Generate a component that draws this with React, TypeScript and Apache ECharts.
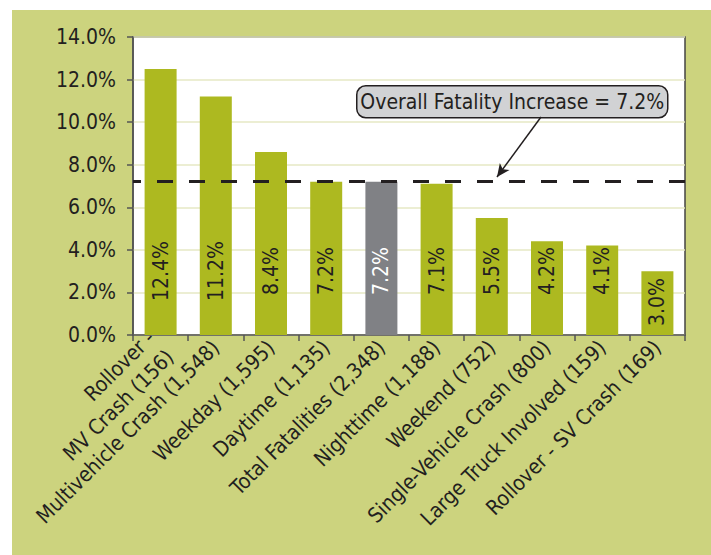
import React, { useEffect, useRef } from "react";
import * as echarts from "echarts";

const categories = [
  "Rollover -\nMV Crash (156)",
  "Multivehicle Crash (1,548)",
  "Weekday (1,595)",
  "Daytime (1,135)",
  "Total Fatalities (2,348)",
  "Nighttime (1,188)",
  "Weekend (752)",
  "Single-Vehicle Crash (800)",
  "Large Truck Involved (159)",
  "Rollover - SV Crash (169)",
];
const barValues = [12.5, 11.2, 8.6, 7.2, 7.2, 7.1, 5.5, 4.4, 4.2, 3.0];
const labelValues = [12.4, 11.2, 8.4, 7.2, 7.2, 7.1, 5.5, 4.2, 4.1, 3.0];
const highlightIndex = 4;
const overallIncrease = 7.2;
const calloutText = "Overall Fatality Increase = 7.2%";

const FONT = "'Liberation Sans Narrow', 'DejaVu Sans Condensed', Roboto, sans-serif";
const TEXT = "#231f20";
const GREEN_BG = "#ccd37e";
const BAR = "#adb920";
const GRAY = "#808185";

export default function App() {
  const ref = useRef<HTMLDivElement>(null);
  useEffect(() => {
    if (!ref.current) return;
    const chart = echarts.init(ref.current, undefined, { renderer: "svg" });
    const option: any = {
      animation: false,
      backgroundColor: GREEN_BG,
      textStyle: { fontFamily: FONT },
      grid: {
        left: 121,
        top: 27,
        width: 552,
        height: 298,
        outerBoundsMode: "none",
        containLabel: false,
        show: true,
        backgroundColor: "#ffffff",
        borderColor: "#444444",
        borderWidth: 1.5,
      },
      xAxis: {
        type: "category",
        data: categories,
        axisLine: { show: true, lineStyle: { color: "#555555", width: 1.5 } },
        axisTick: { show: true, alignWithLabel: false, length: 6, lineStyle: { color: "#555555", width: 1.5 } },
        axisLabel: {
          interval: 0,
          rotate: 45,
          margin: 9,
          fontSize: 21,
          lineHeight: 27,
          color: TEXT,
          fontFamily: FONT,
        },
      },
      yAxis: {
        type: "value",
        min: 0,
        max: 14,
        interval: 2,
        axisLine: { show: true, lineStyle: { color: "#555555", width: 1.5 } },
        axisTick: { show: true, length: 6, lineStyle: { color: "#555555", width: 1.5 } },
        splitLine: { show: true, lineStyle: { color: "#e6e9c4", width: 1.5 } },
        axisLabel: {
          margin: 17,
          fontSize: 21,
          color: TEXT,
          fontFamily: FONT,
          formatter: (v: number) => v.toFixed(1) + "%",
        },
      },
      series: [
        {
          type: "bar",
          barWidth: 32,
          data: barValues.map((v, i) => ({
            value: v,
            itemStyle: { color: i === highlightIndex ? GRAY : BAR },
            label: {
              color: i === highlightIndex ? "#ffffff" : TEXT,
              distance: v < 4 ? 33 : 64,
            },
          })),
          label: {
            show: true,
            position: "insideBottom",
            rotate: 90,
            align: "center",
            verticalAlign: "middle",
            fontSize: 21,
            fontFamily: FONT,
            formatter: (p: any) => labelValues[p.dataIndex].toFixed(1) + "%",
          },
          markLine: {
            silent: true,
            symbol: ["none", "none"],
            label: { show: false },
            lineStyle: { type: [16, 16], dashOffset: 8, width: 3, color: TEXT },
            data: [{ yAxis: overallIncrease }],
          },
        },
        {
          type: "line",
          data: categories.map(() => null),
          showSymbol: false,
          silent: true,
          markLine: {
            silent: true,
            symbol: ["none", "arrow"],
            symbolSize: [9, 13],
            label: { show: false },
            lineStyle: { type: "solid", width: 1.5, color: TEXT },
            data: [[{ x: 529, y: 107 }, { x: 485, y: 167 }]],
          },
        },
      ],
      graphic: [
        {
          type: "group",
          left: 344,
          top: 75,
          children: [
            {
              type: "rect",
              shape: { x: 0, y: 0, width: 311, height: 32, r: 9 },
              style: { fill: "#d1d2d4", stroke: TEXT, lineWidth: 1.5 },
            },
            {
              type: "text",
              x: 155.5,
              y: 16,
              style: {
                text: calloutText,
                fontSize: 21,
                fontFamily: FONT,
                fill: TEXT,
                align: "center",
                verticalAlign: "middle",
              },
            },
          ],
        },
      ],
    };
    chart.setOption(option);
    return () => chart.dispose();
  }, []);
  return (
    <div style={{ position: "fixed", left: 0, top: 0, width: 711, height: 555, background: "#ffffff" }}>
      <div ref={ref} style={{ position: "absolute", left: 12, top: 10, width: 699, height: 545 }} />
    </div>
  );
}
